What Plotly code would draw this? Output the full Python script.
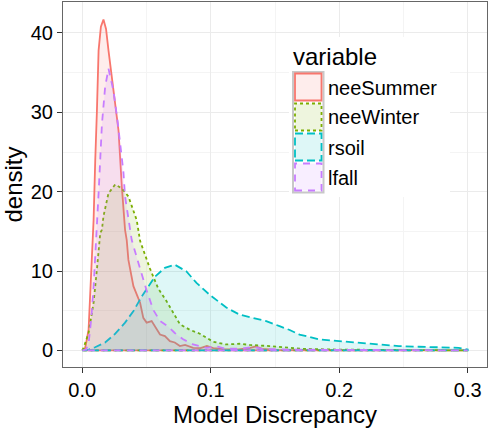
import plotly.graph_objects as go

# ---------------- data ----------------
series_names = ["neeSummer", "neeWinter", "rsoil", "lfall"]

nee_summer_x = [0.0, 0.0023, 0.0049, 0.0062, 0.0075, 0.0088, 0.0101, 0.0106, 0.0114, 0.0127,
                0.0145, 0.0165, 0.0185, 0.0204, 0.0243, 0.0269, 0.0282, 0.0308, 0.0333, 0.0346,
                0.0359, 0.0398, 0.045, 0.0475, 0.0501, 0.054, 0.0579, 0.0605, 0.0643, 0.0682,
                0.072, 0.076, 0.080, 0.0863, 0.092, 0.097, 0.102, 0.11, 0.12, 0.13, 0.135,
                0.14, 0.15, 0.2, 0.25, 0.3]
nee_summer_y = [0.0, 0.3, 2.6, 6.8, 11.0, 16.4, 24.0, 27.7, 30.2, 37.8,
                40.8, 41.7, 40.5, 37.8, 32.7, 29.0, 27.7, 20.6, 15.2, 13.9,
                11.4, 8.1, 6.0, 4.1, 3.5, 3.7, 2.6, 2.0, 1.8, 1.17,
                1.0, 0.55, 0.7, 0.33, 0.3, 0.55, 0.3, 0.15, 0.1, 0.3, 0.5,
                0.2, 0.05, 0.02, 0.01, 0.0]

nee_winter_x = [0.0, 0.001, 0.0049, 0.0088, 0.0114, 0.014, 0.0153, 0.0165, 0.0204, 0.0256,
                0.0308, 0.0359, 0.0424, 0.045, 0.0527, 0.0591, 0.0656, 0.0708, 0.076, 0.0837,
                0.0915, 0.1018, 0.112, 0.1225, 0.13, 0.1457, 0.1587, 0.17, 0.2, 0.25, 0.3]
nee_winter_y = [0.0, 0.3, 2.2, 6.0, 10.2, 14.8, 15.2, 16.9, 19.8, 20.9,
                20.4, 19.4, 16.4, 13.8, 10.3, 7.8, 6.2, 4.7, 3.3, 2.6,
                2.1, 1.1, 0.75, 0.84, 0.7, 0.55, 0.33, 0.2, 0.1, 0.05, 0.02]

rsoil_x = [0.0, 0.005, 0.01, 0.0178, 0.025, 0.0333, 0.04, 0.0463, 0.0566, 0.0643,
           0.072, 0.0811, 0.0889, 0.0992, 0.1121, 0.1225, 0.1328, 0.1432, 0.1535, 0.161,
           0.169, 0.1845, 0.2, 0.2155, 0.231, 0.2465, 0.262, 0.2775, 0.293, 0.3]
rsoil_y = [0.0, 0.1, 0.4, 1.0, 2.0, 3.5, 5.0, 6.8, 9.3, 10.4,
           10.8, 9.95, 8.5, 7.0, 5.4, 4.5, 4.1, 3.7, 3.05, 2.6,
           2.0, 1.38, 1.17, 0.96, 0.75, 0.54, 0.46, 0.42, 0.33, 0.12]

lfall_x = [0.0, 0.003, 0.005, 0.007, 0.0088, 0.0101, 0.0114, 0.0127, 0.0153, 0.0178,
           0.0204, 0.0243, 0.0277, 0.032, 0.0333, 0.0385, 0.0437, 0.050, 0.0553, 0.0605,
           0.0669, 0.072, 0.0785, 0.0863, 0.0966, 0.105, 0.112, 0.125, 0.133, 0.14,
           0.16, 0.2, 0.3]
lfall_y = [0.0, 0.1, 1.0, 4.0, 8.0, 11.8, 15.2, 19.8, 28.5, 33.2,
           35.5, 32.7, 28.6, 22.5, 19.4, 13.9, 11.0, 7.6, 5.1, 3.7,
           3.0, 2.2, 1.4, 0.75, 0.33, 0.5, 0.2, 0.25, 0.45, 0.2,
           0.1, 0.05, 0.0]

x_ticks = [0.0, 0.1, 0.2, 0.3]
x_tick_labels = ["0.0", "0.1", "0.2", "0.3"]
y_ticks = [0, 10, 20, 30, 40]
y_tick_labels = ["0", "10", "20", "30", "40"]

# ---------------- styles ----------------
line_colors = ["#F8766D", "#7CAE00", "#00BFC4", "#C77CFF"]
fill_alpha = 0.13
dashes = ["solid", "3px,3px", "8px,4px", "7px,6px"]

def rgba(hex_color, a):
    h = hex_color.lstrip("#")
    r, g, b = int(h[0:2], 16), int(h[2:4], 16), int(h[4:6], 16)
    return f"rgba({r},{g},{b},{a})"

xs_all = [nee_summer_x, nee_winter_x, rsoil_x, lfall_x]
ys_all = [nee_summer_y, nee_winter_y, rsoil_y, lfall_y]

fig = go.Figure()
for name, xs, ys, col, dash in zip(series_names, xs_all, ys_all, line_colors, dashes):
    # closed polygon (curve + baseline), as ggplot's geom_density outline
    px_ = list(xs) + [xs[-1], xs[0]]
    py_ = list(ys) + [0, 0]
    fig.add_trace(go.Scatter(
        x=px_, y=py_, mode="lines", name=name, fill="toself",
        fillcolor=rgba(col, fill_alpha),
        line=dict(color=col, width=1.8, dash=dash),
        showlegend=False, hoverinfo="skip",
    ))

# ---------------- layout ----------------
W, H = 490, 432
ML, MR, MT, MB = 63, 3, 2, 65
PW, PH = W - ML - MR, H - MT - MB

def px2x(p):
    return (p - ML) / PW

def py2y(p):
    return 1 - (p - MT) / PH

font_family = "Liberation Sans, Arial, sans-serif"

shapes = []
annotations = []
# legend background
shapes.append(dict(type="rect", xref="paper", yref="paper", layer="above",
                   x0=px2x(289), x1=px2x(450), y0=py2y(197), y1=py2y(37),
                   fillcolor="white", line=dict(width=0)))
# grey frame around key column
shapes.append(dict(type="rect", xref="paper", yref="paper", layer="above",
                   x0=px2x(293), x1=px2x(323.5), y0=py2y(192.5), y1=py2y(72),
                   fillcolor="white", line=dict(color="#C8C8C8", width=2)))
key_tops = [72, 102, 132, 162]
for i, (name, col, dash) in enumerate(zip(series_names, line_colors, dashes)):
    t = key_tops[i]
    shapes.append(dict(type="rect", xref="paper", yref="paper", layer="above",
                       x0=px2x(295), x1=px2x(321.5), y0=py2y(t + 28.5), y1=py2y(t + 1.5),
                       fillcolor=rgba(col, fill_alpha),
                       line=dict(color=col, width=1.8, dash=dash)))
    annotations.append(dict(text=name, xref="paper", yref="paper",
                            x=px2x(326), y=py2y(t + 15.5), xanchor="left", yanchor="middle",
                            showarrow=False, font=dict(size=20, color="black", family=font_family)))
annotations.append(dict(text="variable", xref="paper", yref="paper",
                        x=px2x(291), y=py2y(57), xanchor="left", yanchor="middle",
                        showarrow=False, font=dict(size=24, color="black", family=font_family)))

axis_common = dict(
    showline=True, linecolor="#666666", linewidth=1, mirror=True,
    ticks="outside", ticklen=5, tickwidth=1, tickcolor="#333333",
    showgrid=True, gridcolor="#EBEBEB", gridwidth=1.2,
    zeroline=False,
    tickfont=dict(size=20, color="black", family=font_family),
)

fig.update_layout(
    width=W, height=H,
    margin=dict(l=ML, r=MR, t=MT, b=MB),
    paper_bgcolor="white", plot_bgcolor="white",
    font=dict(family=font_family, color="black"),
    shapes=shapes, annotations=annotations,
    xaxis=dict(
        axis_common,
        range=[-0.015, 0.315],
        tickmode="array", tickvals=x_ticks, ticktext=x_tick_labels,
        minor=dict(showgrid=True, gridcolor="#F4F4F4", gridwidth=0.8, dtick=0.05, tick0=0.05, ticks=""),
        title=dict(text="Model Discrepancy", font=dict(size=24, color="black", family=font_family), standoff=6),
    ),
    yaxis=dict(
        axis_common,
        range=[-2.09, 43.9],
        tickmode="array", tickvals=y_ticks, ticktext=y_tick_labels,
        minor=dict(showgrid=True, gridcolor="#F4F4F4", gridwidth=0.8, dtick=5, tick0=5, ticks=""),
        title=dict(text="density", font=dict(size=24, color="black", family=font_family), standoff=4),
    ),
    showlegend=False,
)

fig.write_html("out.html")
